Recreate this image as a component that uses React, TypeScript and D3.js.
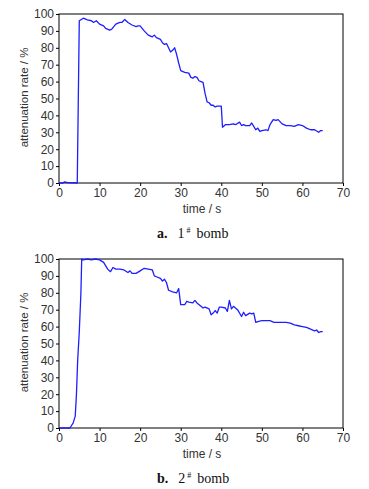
import React, { useEffect, useRef } from "react";
import * as d3 from "d3";

// bomb 1: time (s) / attenuation rate (%)
const time1 = [0, 1, 1.3, 2, 4.5, 5, 6, 7, 8, 8.5, 9.2, 10, 11, 11.5, 12.5, 13, 14, 15, 15.5, 16.2, 17, 18, 19, 19.5, 20, 21, 22, 23, 23.5, 24, 25, 25.5, 26, 26.5, 27, 27.5, 28, 28.5, 29, 29.5, 30, 31, 32, 32.5, 33, 33.5, 34, 34.5, 35, 35.5, 36, 36.5, 37, 37.5, 38, 38.5, 39, 40, 40.3, 41, 42, 43, 43.5, 44.5, 45, 45.5, 46, 47, 47.5, 48, 48.5, 49, 49.5, 50, 51, 51.5, 52, 52.8, 53.5, 54, 55, 56, 57, 58, 59, 60, 61, 62, 63, 64, 64.5, 65];
const rate1 = [0, 0, 0.6, 0.3, 0, 96, 97.5, 96.5, 96, 95, 96, 94, 93, 91.5, 90.5, 91, 94, 95, 95, 96.8, 95, 93.5, 92.5, 93, 93, 90, 87.5, 86.5, 87.5, 86, 85, 83, 82, 82.5, 80, 77.5, 78.5, 80, 76, 71, 66.5, 65.5, 65, 62.5, 62, 63, 62.5, 60.5, 60, 59.5, 53, 48, 47.5, 46, 46, 45, 45.5, 45.5, 33, 34.5, 34.5, 35, 34.5, 36, 34, 34.5, 34, 34, 35.5, 33.5, 31.5, 32.5, 30.5, 31, 31.5, 31, 34.5, 37.5, 37, 37.5, 35, 34, 34, 33.5, 34.5, 34, 32.5, 31.5, 31.5, 30, 31, 31];

// bomb 2
const time2 = [0.2, 1, 2.7, 3.5, 4, 4.3, 4.6, 5, 5.4, 5.6, 6, 7, 8, 9, 10, 11, 12, 12.7, 13.3, 14, 15, 16, 17, 17.5, 18, 19, 20, 21, 22, 23, 23.5, 24, 25, 25.5, 26, 26.5, 27, 28, 29, 29.5, 30, 31, 31.5, 32, 33, 33.5, 34, 35, 35.5, 36, 37, 37.5, 38, 38.5, 39, 39.5, 40, 41, 41.5, 42, 42.5, 43, 44, 45, 45.5, 46, 47, 47.5, 48, 48.5, 49, 50, 51, 52, 53, 54, 55, 56, 57, 58, 59, 60, 61, 62, 63, 63.5, 64, 64.5, 65];
const rate2 = [0, 0, 0, 3, 7, 20, 40, 57, 80, 100, 99.5, 100, 99.5, 100, 99.5, 98, 94, 92.5, 95, 94, 94, 93.5, 92, 93, 91.5, 91.5, 93, 94.5, 94, 93.5, 90, 89.5, 88.5, 87, 88, 86, 81.5, 80.5, 80, 82.5, 73, 73, 75, 74.5, 74, 75.5, 74, 72, 71, 71.5, 70.5, 67, 68, 69.5, 68, 71.5, 71.5, 71, 69, 75.5, 70.5, 72, 70, 66, 68.5, 66.5, 68, 67.5, 68, 62.5, 63, 63.5, 63.5, 63.5, 62.5, 62.5, 62.5, 62.5, 62, 61, 60.5, 60, 59.5, 58.5, 57.5, 58, 56.5, 57, 57];

const xTicks = [0, 10, 20, 30, 40, 50, 60, 70];
const yTicks = [0, 10, 20, 30, 40, 50, 60, 70, 80, 90, 100];

const panels = [
  { time: time1, rate: rate1, letter: "a.", num: "1", top: 14 },
  { time: time2, rate: rate2, letter: "b.", num: "2", top: 259 },
];

const App = () => {
  const ref = useRef<SVGSVGElement>(null);

  useEffect(() => {
    const svg = d3.select(ref.current);
    svg.selectAll("*").remove();
    const left = 59, right = 343, plotH = 169;
    const font = "'Liberation Sans', Arial, sans-serif";

    panels.forEach((p) => {
      const x = d3.scaleLinear().domain([0, 70]).range([left, right]);
      const y = d3.scaleLinear().domain([0, 100]).range([p.top + plotH, p.top]);
      const g = svg.append("g");

      const xa = g.append("g")
        .attr("transform", `translate(0,${p.top + plotH})`)
        .call(d3.axisBottom(x).tickValues(xTicks).tickSize(3).tickPadding(2));
      const ya = g.append("g")
        .attr("transform", `translate(${left},0)`)
        .call(d3.axisLeft(y).tickValues(yTicks).tickSize(3).tickPadding(2));
      [xa, ya].forEach((a) => {
        a.select(".domain").remove();
        a.selectAll("line").attr("stroke", "#000");
        a.selectAll("text")
          .attr("font-family", font)
          .attr("font-size", 12)
          .attr("fill", "#333");
      });

      g.append("rect")
        .attr("x", left)
        .attr("y", p.top)
        .attr("width", right - left)
        .attr("height", plotH)
        .attr("fill", "none")
        .attr("stroke", "#000")
        .attr("stroke-width", 1);

      const pts = p.time.map((t, i) => [t, p.rate[i]] as [number, number]);
      g.append("path")
        .datum(pts)
        .attr("fill", "none")
        .attr("stroke", "#1e1eff")
        .attr("stroke-width", 1.3)
        .attr("stroke-linejoin", "round")
        .attr("d", d3.line().x((d) => x(d[0])).y((d) => y(d[1])));

      g.append("text")
        .attr("x", 202)
        .attr("y", p.top + plotH + 30)
        .attr("text-anchor", "middle")
        .attr("font-family", font)
        .attr("font-size", 12)
        .attr("fill", "#333")
        .text("time / s");

      g.append("text")
        .attr("transform", `translate(28,${p.top + plotH / 2 - 1}) rotate(-90)`)
        .attr("text-anchor", "middle")
        .attr("font-family", font)
        .attr("font-size", 11.5)
        .attr("fill", "#333")
        .text("attenuation rate / %");

      const cap = g.append("text")
        .attr("x", 157)
        .attr("y", p.top + plotH + 55)
        .attr("font-family", "'Liberation Serif', serif")
        .attr("font-size", 14)
        .attr("fill", "#111");
      cap.append("tspan").attr("font-weight", "bold").text(p.letter);
      cap.append("tspan").attr("dx", 10).text(p.num);
      cap.append("tspan").attr("dx", 2).attr("font-size", 8).attr("dy", -5).text("#");
      cap.append("tspan").attr("dy", 5).attr("dx", 6).text("bomb");
    });
  }, []);

  return (
    <svg
      ref={ref}
      width={369}
      height={489}
      style={{ position: "absolute", left: 0, top: 0, background: "#fff" }}
    />
  );
};

export default App;
